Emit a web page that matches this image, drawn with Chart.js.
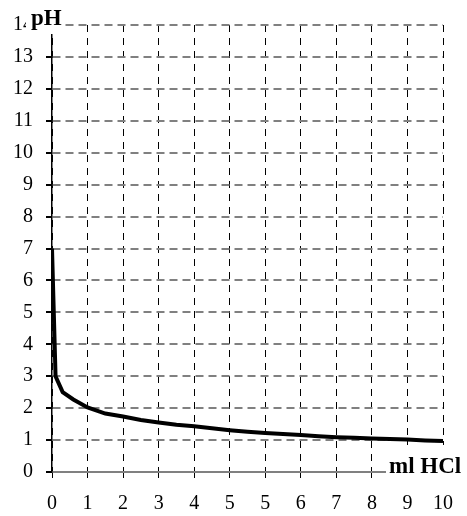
<!DOCTYPE html>
<html>
<head>
<meta charset="utf-8">
<script src="https://cdn.jsdelivr.net/npm/chart.js@4/dist/chart.umd.min.js"></script>
<style>
  body { margin: 0; background: #fff; }
  #wrap { width: 467px; height: 516px; }
</style>
</head>
<body>
<div id="wrap"><canvas id="chart" width="467" height="516"></canvas></div>
<script>
// tick labels as printed on the original (the 5 is there twice)
const xLabels = ['0', '1', '2', '3', '4', '5', '5', '6', '7', '8', '9', '10'];

// titration curve (x in grid steps)
const volume = [0, 0.1, 0.3, 0.6, 1, 1.5, 2, 2.5, 3, 3.5, 4, 4.5, 5, 5.5, 6, 6.5, 7, 7.5, 8, 8.5, 9, 9.5, 10, 10.5, 11];
const ph = [7, 3, 2.5, 2.27, 2.02, 1.83, 1.74, 1.63, 1.55, 1.48, 1.43, 1.37, 1.31, 1.26, 1.22, 1.19, 1.16, 1.12, 1.09, 1.07, 1.05, 1.03, 1.02, 0.99, 0.97];

const serif = 'Liberation Serif';

// white boxes with bold axis titles, like in the scan
const axisTitles = {
  id: 'axisTitles',
  afterDraw(chart) {
    const ctx = chart.ctx;
    ctx.save();
    ctx.fillStyle = '#fff';
    ctx.fillRect(26, 2, 38, 32);
    ctx.fillRect(386, 445, 81, 36);
    ctx.fillStyle = '#000';
    ctx.font = 'bold 23px "' + serif + '"';
    ctx.textBaseline = 'middle';
    ctx.textAlign = 'left';
    ctx.fillText('pH', 31, 19);
    ctx.fillText('ml HCl', 389, 467);
    ctx.restore();
  }
};

new Chart(document.getElementById('chart'), {
  type: 'line',
  data: {
    datasets: [{
      data: volume.map((v, i) => ({ x: v, y: ph[i] })),
      borderColor: '#000',
      borderWidth: 4,
      pointRadius: 0,
      tension: 0,
      fill: false
    }]
  },
  options: {
    responsive: false,
    animation: false,
    layout: { padding: { top: 20, right: 23, left: 0, bottom: 0 } },
    plugins: { legend: { display: false }, tooltip: { enabled: false } },
    scales: {
      x: {
        type: 'linear',
        min: 0,
        max: 11,
        afterFit: s => { s.height = 44; },
        ticks: {
          stepSize: 1,
          autoSkip: false,
          color: '#000',
          padding: 14,
          font: { family: serif, size: 20 },
          maxRotation: 0,
          callback: (v, i) => xLabels[i]
        },
        grid: {
          color: '#000',
          lineWidth: 1,
          tickLength: 6,
          tickColor: '#000'
        },
        border: { color: '#808080', width: 2, dash: [7, 6] }
      },
      y: {
        min: 0,
        max: 14,
        afterFit: s => { s.width = 52; },
        ticks: {
          stepSize: 1,
          color: '#000',
          padding: 13,
          font: { family: serif, size: 20 }
        },
        grid: {
          color: '#808080',
          lineWidth: 2,
          tickLength: 6,
          tickColor: '#000'
        },
        border: { color: '#000', width: 1.5, dash: [8, 5] }
      }
    }
  },
  plugins: [axisTitles]
});
</script>
</body>
</html>
